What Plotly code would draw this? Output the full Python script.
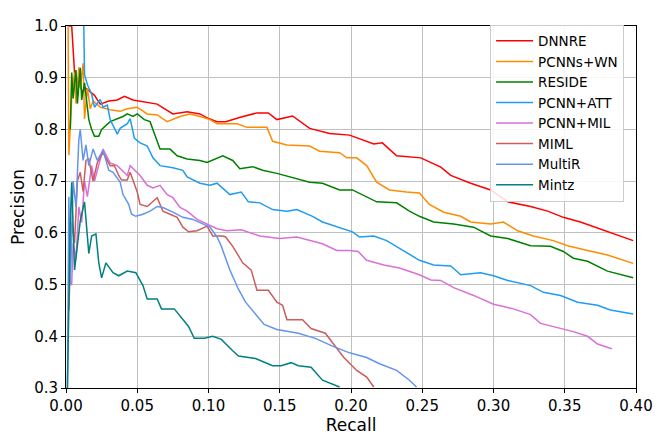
import plotly.graph_objects as go

# precision / recall points
dnnre_r = [0.002, 0.004, 0.006, 0.009, 0.012, 0.0133, 0.017, 0.020, 0.024, 0.030, 0.036, 0.041, 0.047, 0.057, 0.064,
           0.075, 0.085, 0.094, 0.100, 0.106, 0.112, 0.123, 0.134, 0.142, 0.148, 0.159, 0.171, 0.185, 0.199, 0.216,
           0.222, 0.232, 0.249, 0.263, 0.270, 0.284, 0.298, 0.310, 0.326, 0.338, 0.349, 0.361, 0.380, 0.398]
dnnre_p = [1.0, 1.0, 0.91, 0.89, 0.87, 0.881, 0.872, 0.866, 0.849, 0.855, 0.857, 0.864, 0.857, 0.853, 0.849,
           0.830, 0.834, 0.830, 0.821, 0.815, 0.815, 0.824, 0.832, 0.832, 0.819, 0.826, 0.802, 0.792, 0.789, 0.772,
           0.774, 0.749, 0.745, 0.727, 0.711, 0.696, 0.683, 0.660, 0.651, 0.642, 0.630, 0.621, 0.602, 0.585]

wn_r = [0.0015, 0.002, 0.004, 0.006, 0.007, 0.009, 0.010, 0.012, 0.013, 0.015, 0.017, 0.019, 0.024, 0.031, 0.038,
        0.043, 0.050, 0.057, 0.064, 0.071, 0.080, 0.087, 0.094, 0.101, 0.106, 0.113, 0.120, 0.127, 0.141, 0.145,
        0.155, 0.171, 0.178, 0.192, 0.197, 0.204, 0.211, 0.218, 0.227, 0.239, 0.248, 0.255, 0.265, 0.277, 0.284,
        0.298, 0.307, 0.317, 0.328, 0.342, 0.352, 0.366, 0.380, 0.398]
wn_p = [1.0, 0.75, 0.86, 0.91, 0.85, 0.92, 0.88, 0.928, 0.82, 0.88, 0.84, 0.855, 0.843, 0.838, 0.835,
        0.840, 0.843, 0.830, 0.828, 0.815, 0.825, 0.830, 0.825, 0.819, 0.811, 0.811, 0.811, 0.804, 0.804, 0.777,
        0.770, 0.768, 0.758, 0.755, 0.745, 0.745, 0.730, 0.698, 0.683, 0.679, 0.677, 0.655, 0.640, 0.632, 0.621,
        0.617, 0.621, 0.604, 0.594, 0.585, 0.575, 0.566, 0.557, 0.541]

reside_r = [0.003, 0.004, 0.005, 0.007, 0.008, 0.010, 0.011, 0.013, 0.016, 0.018, 0.020, 0.023, 0.025, 0.031, 0.040,
            0.043, 0.047, 0.050, 0.055, 0.059, 0.062, 0.066, 0.073, 0.078, 0.085, 0.094, 0.099, 0.106, 0.110, 0.117,
            0.122, 0.131, 0.138, 0.148, 0.157, 0.171, 0.180, 0.192, 0.201, 0.211, 0.218, 0.232, 0.241, 0.248, 0.258,
            0.272, 0.286, 0.298, 0.310, 0.326, 0.340, 0.349, 0.356, 0.366, 0.380, 0.398]
reside_p = [0.80, 0.91, 0.86, 0.915, 0.85, 0.919, 0.857, 0.89, 0.819, 0.800, 0.787, 0.787, 0.80, 0.815, 0.825,
            0.830, 0.825, 0.830, 0.819, 0.815, 0.792, 0.762, 0.762, 0.749, 0.743, 0.740, 0.736, 0.745, 0.749, 0.740,
            0.724, 0.728, 0.721, 0.715, 0.708, 0.698, 0.696, 0.683, 0.683, 0.670, 0.660, 0.658, 0.642, 0.632, 0.621,
            0.617, 0.611, 0.594, 0.589, 0.575, 0.574, 0.564, 0.551, 0.545, 0.526, 0.513]

att_r = [0.0125, 0.013, 0.015, 0.018, 0.020, 0.024, 0.026, 0.029, 0.031, 0.036, 0.038, 0.043, 0.045, 0.048, 0.052,
         0.057, 0.061, 0.066, 0.075, 0.082, 0.085, 0.094, 0.101, 0.106, 0.115, 0.123, 0.128, 0.136, 0.145, 0.155,
         0.162, 0.173, 0.180, 0.192, 0.201, 0.206, 0.216, 0.225, 0.237, 0.248, 0.258, 0.270, 0.277, 0.291, 0.300,
         0.310, 0.326, 0.335, 0.347, 0.359, 0.373, 0.382, 0.398]
att_p = [1.0, 0.906, 0.887, 0.868, 0.843, 0.858, 0.843, 0.847, 0.819, 0.791, 0.802, 0.811, 0.821, 0.783, 0.774,
         0.768, 0.745, 0.730, 0.726, 0.721, 0.708, 0.696, 0.692, 0.696, 0.674, 0.679, 0.660, 0.658, 0.645, 0.642,
         0.645, 0.632, 0.621, 0.611, 0.602, 0.592, 0.594, 0.585, 0.566, 0.547, 0.538, 0.536, 0.519, 0.523, 0.517,
         0.508, 0.498, 0.485, 0.479, 0.466, 0.460, 0.451, 0.443]

mil_r = [0.002, 0.004, 0.005, 0.007, 0.009, 0.011, 0.013, 0.015, 0.018, 0.020, 0.022, 0.026, 0.031, 0.036, 0.043,
         0.045, 0.052, 0.057, 0.061, 0.066, 0.071, 0.075, 0.080, 0.085, 0.092, 0.099, 0.106, 0.113, 0.123, 0.136,
         0.150, 0.162, 0.171, 0.180, 0.190, 0.199, 0.205, 0.211, 0.223, 0.234, 0.248, 0.256, 0.263, 0.272, 0.286,
         0.300, 0.314, 0.326, 0.333, 0.347, 0.356, 0.366, 0.373, 0.383]
mil_p = [0.50, 0.50, 0.58, 0.55, 0.65, 0.62, 0.70, 0.67, 0.73, 0.70, 0.721, 0.762, 0.735, 0.730, 0.711,
         0.730, 0.711, 0.692, 0.687, 0.692, 0.674, 0.668, 0.649, 0.642, 0.626, 0.617, 0.608, 0.604, 0.606, 0.594,
         0.589, 0.592, 0.585, 0.579, 0.566, 0.566, 0.564, 0.547, 0.538, 0.532, 0.519, 0.509, 0.508, 0.494, 0.479,
         0.462, 0.453, 0.442, 0.425, 0.415, 0.409, 0.400, 0.385, 0.376]

miml_r = [0.002, 0.004, 0.006, 0.008, 0.010, 0.012, 0.014, 0.016, 0.019, 0.022, 0.026, 0.031, 0.034, 0.037, 0.039,
          0.043, 0.045, 0.050, 0.052, 0.057, 0.064, 0.068, 0.073, 0.078, 0.082, 0.086, 0.092, 0.099, 0.103, 0.110,
          0.112, 0.117, 0.124, 0.130, 0.134, 0.142, 0.148, 0.152, 0.155, 0.166, 0.172, 0.182, 0.190, 0.195, 0.204,
          0.211, 0.216]
miml_p = [0.45, 0.62, 0.58, 0.70, 0.717, 0.68, 0.74, 0.743, 0.70, 0.736, 0.755, 0.730, 0.73, 0.711, 0.702,
          0.702, 0.717, 0.679, 0.655, 0.651, 0.668, 0.642, 0.636, 0.630, 0.611, 0.602, 0.604, 0.613, 0.594, 0.594,
          0.592, 0.574, 0.542, 0.528, 0.489, 0.489, 0.466, 0.460, 0.432, 0.432, 0.415, 0.406, 0.377, 0.359, 0.334,
          0.321, 0.302]

multir_r = [0.001, 0.002, 0.003, 0.005, 0.007, 0.009, 0.010, 0.012, 0.014, 0.016, 0.019, 0.022, 0.026, 0.030, 0.033,
            0.038, 0.040, 0.044, 0.046, 0.049, 0.054, 0.059, 0.064, 0.068, 0.075, 0.082, 0.089, 0.096, 0.101, 0.106,
            0.109, 0.115, 0.121, 0.126, 0.133, 0.139, 0.148, 0.163, 0.175, 0.187, 0.199, 0.211, 0.220, 0.232, 0.241,
            0.246]
multir_p = [0.30, 0.67, 0.50, 0.70, 0.65, 0.78, 0.80, 0.74, 0.77, 0.73, 0.762, 0.74, 0.76, 0.721, 0.717,
            0.698, 0.674, 0.655, 0.636, 0.632, 0.636, 0.642, 0.651, 0.649, 0.640, 0.630, 0.626, 0.617, 0.611, 0.592,
            0.574, 0.528, 0.491, 0.466, 0.442, 0.423, 0.413, 0.406, 0.396, 0.381, 0.368, 0.359, 0.347, 0.334, 0.315,
            0.302]

mintz_r = [0.001, 0.002, 0.003, 0.004, 0.006, 0.010, 0.013, 0.016, 0.018, 0.021, 0.023, 0.025, 0.028, 0.033, 0.037,
           0.043, 0.049, 0.054, 0.057, 0.064, 0.067, 0.076, 0.082, 0.086, 0.090, 0.097, 0.103, 0.109, 0.117, 0.121,
           0.133, 0.145, 0.151, 0.158, 0.163, 0.172, 0.180, 0.192]
mintz_p = [0.30, 0.50, 0.62, 0.698, 0.528, 0.623, 0.660, 0.560, 0.594, 0.598, 0.542, 0.513, 0.542, 0.523, 0.517,
           0.526, 0.523, 0.498, 0.472, 0.472, 0.453, 0.453, 0.432, 0.419, 0.396, 0.396, 0.400, 0.394, 0.372, 0.362,
           0.357, 0.343, 0.343, 0.349, 0.343, 0.340, 0.315, 0.302]

series = [
    ('DNNRE', dnnre_r, dnnre_p, '#ff0000'),
    ('PCNNs+WN', wn_r, wn_p, '#ff8c00'),
    ('RESIDE', reside_r, reside_p, '#008000'),
    ('PCNN+ATT', att_r, att_p, '#1e9cf0'),
    ('PCNN+MIL', mil_r, mil_p, '#da70d6'),
    ('MIML', miml_r, miml_p, '#cd5c5c'),
    ('MultiR', multir_r, multir_p, '#6495ed'),
    ('Mintz', mintz_r, mintz_p, '#008080'),
]

fig = go.Figure()
for name, rec, prec, col in series:
    fig.add_trace(go.Scatter(x=rec, y=prec, mode='lines', name=name,
                             line=dict(color=col, width=1.5)))

axis_style = dict(
    showgrid=True,
    gridcolor='#c0c0c0',
    gridwidth=1,
    zeroline=False,
    showline=True,
    linecolor='black',
    linewidth=1,
    mirror=True,
    ticks='outside',
    ticklen=4,
    tickcolor='black',
    tickfont=dict(size=15, color='black'),
    title_font=dict(size=17, color='black'),
)

# page body has an 8px margin, so the figure is a bit smaller than the window
fig.update_layout(
    width=656,
    height=435,
    margin=dict(l=58, r=28, t=9, b=55),
    plot_bgcolor='white',
    paper_bgcolor='white',
    font=dict(family='DejaVu Sans', color='black'),
    xaxis=dict(axis_style, range=[0, 0.4], dtick=0.05, tickformat='.2f', title=dict(text='Recall', standoff=3)),
    yaxis=dict(axis_style, range=[0.3, 1.0], dtick=0.1, tickformat='.1f', title=dict(text='Precision', standoff=5)),
    legend=dict(
        x=0.744, y=1.004, xanchor='left', yanchor='top',
        bgcolor='rgba(255,255,255,0.85)',
        bordercolor='#cccccc', borderwidth=1,
        font=dict(size=13.5),
        itemwidth=37,
        tracegroupgap=0,
    ),
    showlegend=True,
)

fig.write_html("out.html")
